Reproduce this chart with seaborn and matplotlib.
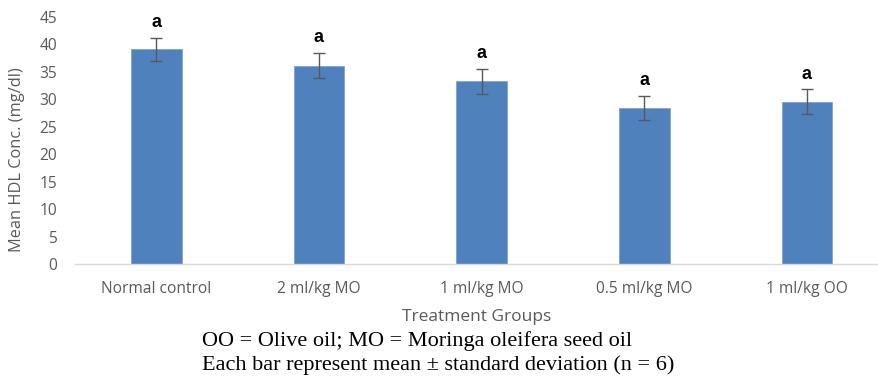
import matplotlib
matplotlib.use("Agg")
import matplotlib.pyplot as plt
import seaborn as sns
import pandas as pd

groups = ["Normal control", "2 ml/kg MO", "1 ml/kg MO", "0.5 ml/kg MO", "1 ml/kg OO"]
means = [39.1, 36.1, 33.3, 28.4, 29.6]
sds = [2.1, 2.3, 2.25, 2.2, 2.2]
letters = ["a", "a", "a", "a", "a"]

df = pd.DataFrame({"group": groups, "mean": means, "sd": sds})

sns.set_style("white")
plt.rcParams["font.family"] = ["Open Sans", "DejaVu Sans"]

fig = plt.figure(figsize=(8.79, 3.8), dpi=100)
ax = fig.add_axes([75 / 879, (380 - 264) / 380, 1 - 75 / 879, 247 / 380])

sns.barplot(data=df, x="group", y="mean", color="#4F81BD", width=0.31,
            saturation=1, edgecolor="#7FA3D0", linewidth=0.6, errorbar=None, ax=ax)

ax.errorbar(range(len(groups)), df["mean"], yerr=df["sd"], fmt="none",
            ecolor="#595959", elinewidth=1.0, capsize=4, capthick=1.0)

for i, (m, s, lab) in enumerate(zip(means, sds, letters)):
    ax.annotate(lab, (i, m + s), xytext=(0, 5), textcoords="offset points",
                ha="center", va="bottom", fontsize=13, fontweight="semibold",
                color="black", family=["Liberation Sans", "DejaVu Sans"])

ax.set_xlim(-0.5, 4.443)
ax.set_ylim(0, 45)
ax.set_yticks(range(0, 46, 5))
ax.tick_params(axis="both", length=0, labelsize=11.2, colors="#595959")
ax.tick_params(axis="x", pad=12)
ax.tick_params(axis="y", pad=13)
for side in ["top", "right", "left"]:
    ax.spines[side].set_visible(False)
ax.spines["bottom"].set_color("#D9D9D9")
ax.spines["bottom"].set_linewidth(1.0)

ax.set_xlabel("Treatment Groups", fontsize=12.5, color="#595959", labelpad=9)
ax.set_ylabel("Mean HDL Conc. (mg/dl)", fontsize=11.8, color="#595959")
ax.yaxis.set_label_coords(-(75 - 25) / 804, (264 - 160) / 247)

fig.text(202 / 879, 1 - 341 / 380, "OO = Olive oil; MO = Moringa oleifera seed oil",
         family=["Liberation Serif"], fontsize=16, va="center", ha="left", color="black")
fig.text(202 / 879, 1 - 365 / 380, "Each bar represent mean \u00b1 standard deviation (n = 6)",
         family=["Liberation Serif"], fontsize=16, va="center", ha="left", color="black")

fig.savefig("out.png", dpi=100)
